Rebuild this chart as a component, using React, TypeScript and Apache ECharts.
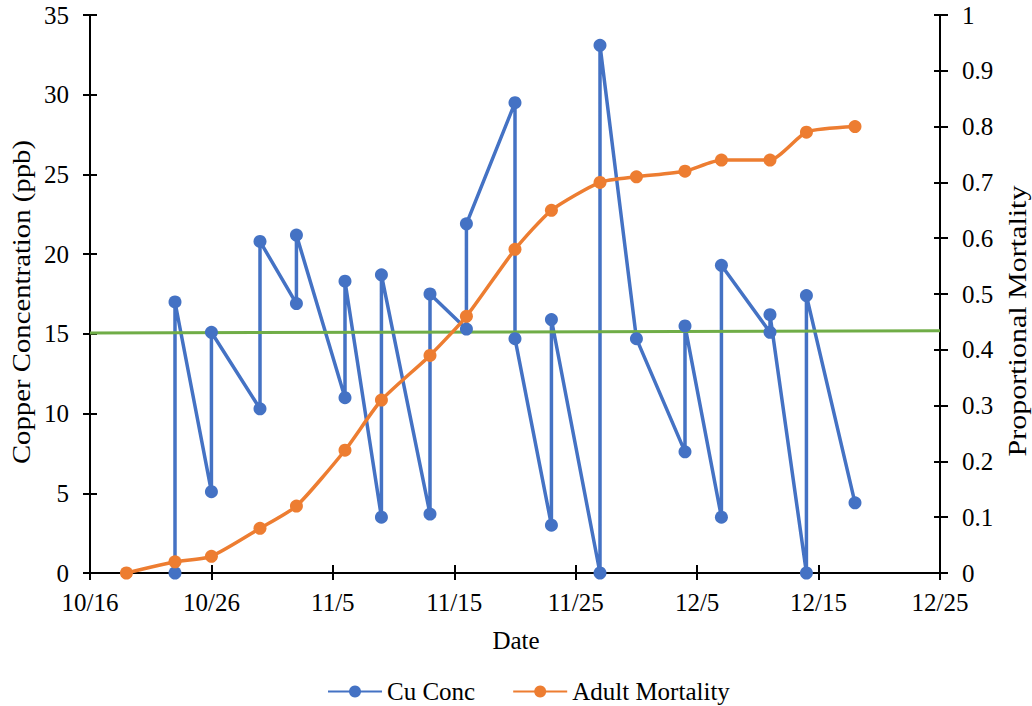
import React, { useEffect, useRef } from "react";
import * as echarts from "echarts";

// Copper concentration samples (ppb), in sampling order (two samples on most dates)
const cuDates = [
  "10/23", "10/23", "10/26", "10/26", "10/30", "10/30", "11/2", "11/2",
  "11/6", "11/6", "11/9", "11/9", "11/13", "11/13", "11/16", "11/16",
  "11/20", "11/20", "11/23", "11/23", "11/27", "11/27", "11/30", "12/4",
  "12/4", "12/7", "12/7", "12/11", "12/11", "12/14", "12/14", "12/18",
];
const cuValues = [
  0, 17.0, 5.1, 15.1, 10.3, 20.8, 16.9, 21.2,
  11.0, 18.3, 3.5, 18.7, 3.7, 17.5, 15.3, 21.9,
  29.5, 14.7, 3.0, 15.9, 0, 33.1, 14.7, 7.6,
  15.5, 3.5, 19.3, 15.1, 16.2, 0, 17.4, 4.4,
];

// Cumulative adult mortality (proportion)
const mortDates = [
  "10/19", "10/23", "10/26", "10/30", "11/2", "11/6", "11/9", "11/13", "11/16",
  "11/20", "11/23", "11/27", "11/30", "12/4", "12/7", "12/11", "12/14", "12/18",
];
const mortValues = [
  0, 0.02, 0.03, 0.08, 0.12, 0.22, 0.31, 0.39, 0.46,
  0.58, 0.65, 0.70, 0.71, 0.72, 0.74, 0.74, 0.79, 0.80,
];

// 15 ppb reference line across the study period
const refDates = ["10/16", "12/25"];
const refValues = [15.05, 15.2];

const xStart = "10/16";
const xEnd = "12/25";
const xStepDays = 10;

const SERIF = '"Liberation Serif", "Times New Roman", serif';
const DAY = 86400000;

const toStamp = (md: string) => {
  const [m, d] = md.split("/").map(Number);
  return Date.UTC(2021, m - 1, d);
};
const dayOf = (md: string) => Math.round((toStamp(md) - toStamp(xStart)) / DAY);
const dateLabel = (offset: number) => {
  const dt = new Date(toStamp(xStart) + offset * DAY);
  return `${dt.getUTCMonth() + 1}/${dt.getUTCDate()}`;
};
const pairs = (dates: string[], values: number[]) =>
  dates.map((d, i) => [dayOf(d), values[i]]);

const BLUE = "#4472C4";
const ORANGE = "#ED7D31";
const GREEN = "#70AD47";

export default function App() {
  const ref = useRef<HTMLDivElement>(null);

  useEffect(() => {
    if (!ref.current) return;
    const chart = echarts.init(ref.current, undefined, { renderer: "svg" });
    const axisLine = { show: true, onZero: false, lineStyle: { color: "#000", width: 2 } };
    const tickStyle = { color: "#000", width: 2 };
    const labelFont = { fontFamily: SERIF, fontSize: 25, color: "#000" };
    const xMax = dayOf(xEnd);

    chart.setOption({
      animation: false,
      backgroundColor: "#fff",
      grid: { left: 90, right: 92, top: 15, bottom: 133, containLabel: false },
      xAxis: [
        {
          type: "value",
          position: "bottom",
          min: 0,
          max: xMax,
          interval: xStepDays,
          axisLine,
          axisTick: { show: true, length: 7, lineStyle: tickStyle },
          axisLabel: { ...labelFont, margin: 17, formatter: (v: number) => dateLabel(v) },
          splitLine: { show: false },
        },
        {
          type: "value",
          position: "bottom",
          min: 0,
          max: xMax,
          interval: xStepDays,
          axisLine: { show: false, onZero: false },
          axisTick: { show: true, inside: true, length: 8, lineStyle: tickStyle },
          axisLabel: { show: false },
          splitLine: { show: false },
        },
      ],
      yAxis: [
        {
          type: "value",
          position: "left",
          min: 0,
          max: 35,
          interval: 5,
          axisLine,
          axisTick: { show: true, length: 7, lineStyle: tickStyle },
          axisLabel: { ...labelFont, margin: 21 },
          splitLine: { show: false },
        },
        {
          type: "value",
          position: "right",
          min: 0,
          max: 1,
          interval: 0.1,
          axisLine,
          axisTick: { show: true, length: 8, lineStyle: tickStyle },
          axisLabel: {
            ...labelFont,
            margin: 22,
            formatter: (v: number) => String(parseFloat(v.toFixed(1))),
          },
          splitLine: { show: false },
        },
        {
          type: "value",
          position: "left",
          min: 0,
          max: 35,
          interval: 5,
          axisLine: { show: false, onZero: false },
          axisTick: { show: true, inside: true, length: 7, lineStyle: tickStyle },
          axisLabel: { show: false },
          splitLine: { show: false },
        },
        {
          type: "value",
          position: "right",
          min: 0,
          max: 1,
          interval: 0.1,
          axisLine: { show: false, onZero: false },
          axisTick: { show: true, inside: true, length: 6, lineStyle: tickStyle },
          axisLabel: { show: false },
          splitLine: { show: false },
        },
      ],
      legend: {
        data: ["Cu Conc", "Adult Mortality"],
        left: 322,
        top: 674,
        itemWidth: 54,
        itemHeight: 15,
        itemGap: 37,
        textStyle: { fontFamily: SERIF, fontSize: 25, color: "#000" },
      },
      graphic: [
        {
          type: "text",
          x: 22,
          y: 302,
          rotation: Math.PI / 2,
          scaleX: 1.15,
          style: {
            text: "Copper Concentration (ppb)",
            fontFamily: SERIF,
            fontSize: 25,
            fill: "#000",
            align: "center",
            verticalAlign: "middle",
          },
        },
        {
          type: "text",
          x: 1017,
          y: 321,
          rotation: Math.PI / 2,
          scaleX: 1.2,
          style: {
            text: "Proportional Mortality",
            fontFamily: SERIF,
            fontSize: 25,
            fill: "#000",
            align: "center",
            verticalAlign: "middle",
          },
        },
        {
          type: "text",
          x: 516,
          y: 640,
          style: {
            text: "Date",
            fontFamily: SERIF,
            fontSize: 25,
            fill: "#000",
            align: "center",
            verticalAlign: "middle",
          },
        },
      ],
      series: [
        {
          name: "Cu Conc",
          type: "line",
          xAxisIndex: 0,
          yAxisIndex: 0,
          data: pairs(cuDates, cuValues),
          symbol: "circle",
          symbolSize: 13,
          color: BLUE,
          lineStyle: { color: BLUE, width: 3.5 },
          itemStyle: { color: BLUE },
        },
        {
          name: "Reference",
          type: "line",
          xAxisIndex: 0,
          yAxisIndex: 0,
          data: pairs(refDates, refValues),
          symbol: "none",
          silent: true,
          color: GREEN,
          lineStyle: { color: GREEN, width: 3 },
        },
        {
          name: "Adult Mortality",
          type: "line",
          xAxisIndex: 0,
          yAxisIndex: 1,
          data: pairs(mortDates, mortValues),
          smooth: 0.2,
          symbol: "circle",
          symbolSize: 13,
          color: ORANGE,
          lineStyle: { color: ORANGE, width: 3.5 },
          itemStyle: { color: ORANGE },
        },
      ],
    });

    return () => chart.dispose();
  }, []);

  return (
    <div
      ref={ref}
      style={{ position: "absolute", left: 0, top: 0, width: 1032, height: 706, background: "#fff" }}
    />
  );
}
